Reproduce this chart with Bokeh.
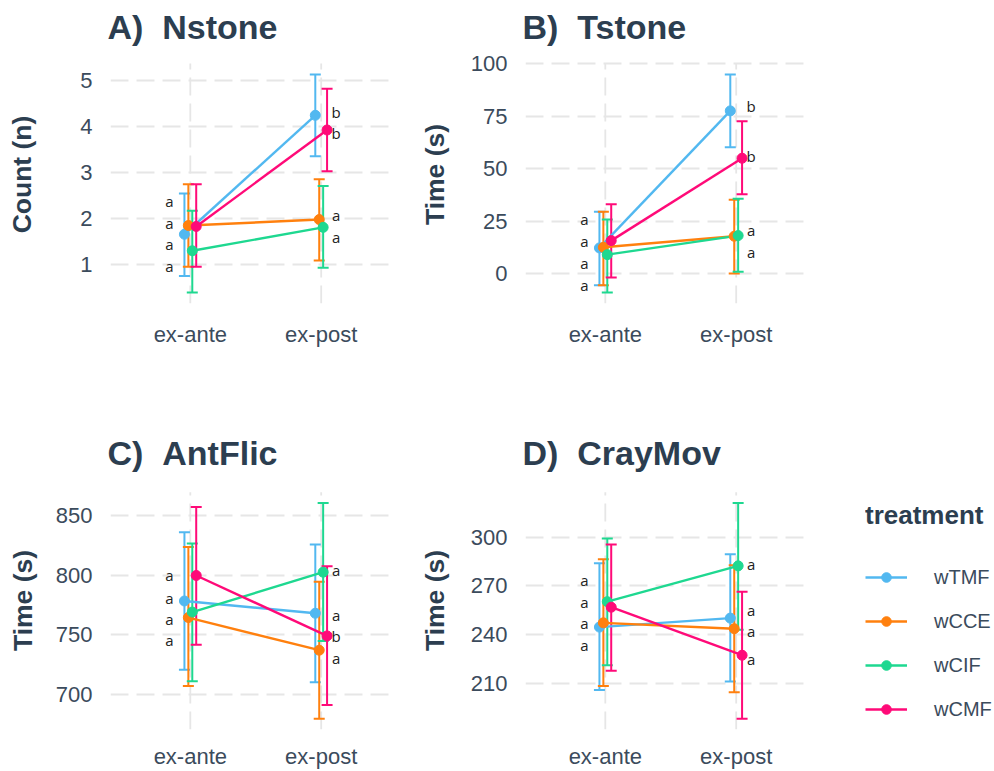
from bokeh.plotting import figure
from bokeh.models import ColumnDataSource, Range1d, FixedTicker, Whisker, TeeHead, Legend, LegendItem
from bokeh.layouts import row, column
from bokeh.embed import file_html
from bokeh.resources import INLINE
from bokeh.core.properties import value

# ---------------- data ----------------
categories = ["ex-ante", "ex-post"]
treatments = ["wTMF", "wCCE", "wCIF", "wCMF"]
colors = ["#52B8F0", "#FF800E", "#1ED890", "#FF0A78"]

# A) Nstone  (rows: wTMF, wCCE, wCIF, wCMF; columns: ex-ante, ex-post)
nstone_mean = [[1.66, 4.25], [1.85, 1.98], [1.30, 1.81], [1.83, 3.93]]
nstone_lower = [[0.75, 3.36], [0.95, 1.09], [0.39, 0.93], [0.95, 3.03]]
nstone_upper = [[2.55, 5.14], [2.75, 2.86], [2.17, 2.71], [2.75, 4.83]]
nstone_ticks = [1, 2, 3, 4, 5]
nstone_ante_letters = ["a", "a", "a", "a"]
nstone_ante_letter_y = [2.38, 1.90, 1.44, 0.96]
nstone_post_letters = ["b", "a", "a", "b"]
nstone_post_letter_y = [4.33, 2.07, 1.59, 3.87]

# B) Tstone
tstone_mean = [[12.2, 77.6], [12.5, 17.8], [9.0, 18.1], [15.7, 55.0]]
tstone_lower = [[-5.6, 60.3], [-5.6, 0.0], [-9.1, 0.8], [-1.9, 37.8]]
tstone_upper = [[29.5, 95.0], [29.5, 35.2], [25.8, 35.7], [33.1, 72.6]]
tstone_ticks = [0, 25, 50, 75, 100]
tstone_ante_letters = ["a", "a", "a", "a"]
tstone_ante_letter_y = [25.8, 15.4, 5.0, -5.4]
tstone_post_letters = ["b", "a", "a", "b"]
tstone_post_letter_y = [79.7, 10.4, 20.8, 56.2]

# C) AntFlic
antflic_mean = [[778.3, 768.0], [764.4, 737.0], [769.0, 802.5], [799.7, 749.0]]
antflic_lower = [[720.6, 710.0], [707.0, 679.5], [710.9, 744.8], [741.5, 691.0]]
antflic_upper = [[836.0, 825.7], [823.7, 794.5], [826.5, 860.5], [857.2, 807.5]]
antflic_ticks = [700, 750, 800, 850]
antflic_ante_letters = ["a", "a", "a", "a"]
antflic_ante_letter_y = [800.0, 781.0, 763.0, 745.7]
antflic_post_letters = ["a", "a", "a", "b"]
antflic_post_letter_y = [766.6, 730.4, 804.2, 748.5]

# D) CrayMov
craymov_mean = [[244.7, 250.2], [247.3, 243.7], [260.3, 282.3], [256.9, 227.4]]
craymov_lower = [[206.0, 211.2], [208.5, 204.6], [221.3, 243.0], [217.9, 188.4]]
craymov_upper = [[283.9, 289.4], [286.3, 282.7], [299.1, 320.9], [295.5, 266.4]]
craymov_ticks = [210, 240, 270, 300]
craymov_ante_letters = ["a", "a", "a", "a"]
craymov_ante_letter_y = [273.5, 260.3, 247.3, 233.9]
craymov_post_letters = ["a", "a", "a", "a"]
craymov_post_letter_y = [255.2, 242.0, 283.3, 225.0]

dodge = [-0.045, -0.015, 0.015, 0.045]

TITLE_COLOR = "#2C3E50"
TICK_COLOR = "#3B4B5C"
GRID_COLOR = "#E6E6E6"
FONT = "Liberation Sans"
DATA_H = 240  # pixel height of the data panel (ggplot panel)


def make_panel(title, ylabel, means, lowers, uppers, yticks,
               ante_letters, ante_y, post_letters, post_y,
               width, height, bl, bt, bb, br, ext_px,
               ylab_standoff, xlab_standoff):
    lo = min(min(v) for v in lowers)
    hi = max(max(v) for v in uppers)
    pad = 0.05 * (hi - lo)
    lo_r, hi_r = lo - pad, hi + pad
    top = hi_r + (hi_r - lo_r) * ext_px / DATA_H
    p = figure(width=width, height=height, title=title,
               x_range=Range1d(0.39, 2.545), y_range=Range1d(lo_r, top),
               output_backend="svg", toolbar_location=None,
               min_border_left=bl, min_border_top=bt,
               min_border_bottom=bb, min_border_right=br)
    p.outline_line_color = None
    p.background_fill_color = "white"
    p.border_fill_color = "white"

    p.title.text_font = FONT
    p.title.text_font_size = "34px"
    p.title.text_font_style = "bold"
    p.title.text_color = TITLE_COLOR
    p.title.align = "left"
    p.title.offset = -3
    p.title.standoff = 0

    p.xaxis.ticker = FixedTicker(ticks=[1, 2])
    p.xaxis.major_label_overrides = {1: categories[0], 2: categories[1]}
    p.xaxis.major_label_standoff = xlab_standoff
    p.yaxis.ticker = FixedTicker(ticks=yticks)
    p.yaxis.major_label_standoff = 18
    p.axis.axis_line_color = None
    p.axis.major_tick_line_color = None
    p.axis.major_tick_out = 0
    p.axis.major_tick_in = 0
    p.axis.minor_tick_line_color = None
    p.axis.minor_tick_out = 0
    p.axis.minor_tick_in = 0
    p.axis.major_label_text_font = FONT
    p.axis.major_label_text_font_size = "22px"
    p.axis.major_label_text_color = TICK_COLOR
    p.yaxis.axis_label = ylabel
    p.yaxis.axis_label_text_font = FONT
    p.yaxis.axis_label_text_font_size = "26.5px"
    p.yaxis.axis_label_text_font_style = "bold"
    p.yaxis.axis_label_text_color = TITLE_COLOR
    p.yaxis.axis_label_standoff = ylab_standoff

    p.xgrid.visible = False
    p.ygrid.grid_line_color = GRID_COLOR
    p.ygrid.grid_line_width = 1.8
    p.ygrid.grid_line_dash = "18 8"
    p.ygrid.minor_grid_line_color = None
    # vertical grid lines only over the data panel
    cat_x = [i + 1 for i in range(len(categories))]
    p.segment(x0=cat_x, y0=[lo_r] * len(cat_x), x1=cat_x, y1=[hi_r] * len(cat_x),
              line_color=GRID_COLOR, line_width=1.8, line_dash="18 8", level="underlay")

    sources = []
    for s in range(len(treatments)):
        xs = [i + 1 + dodge[s] for i in range(len(categories))]
        src = ColumnDataSource(dict(x=xs, y=means[s], lower=lowers[s], upper=uppers[s]))
        sources.append(src)
        c = colors[s]
        w = Whisker(source=src, base="x", upper="upper", lower="lower",
                    line_color=c, line_width=2,
                    upper_head=TeeHead(size=11, line_color=c, line_width=2),
                    lower_head=TeeHead(size=11, line_color=c, line_width=2))
        p.add_layout(w)
    for s in range(len(treatments)):
        p.line("x", "y", source=sources[s], line_color=colors[s], line_width=2.4)
    for s in range(len(treatments)):
        p.scatter("x", "y", source=sources[s], size=10, color=colors[s])

    p.text(x=[1] * len(ante_letters), y=ante_y, text=ante_letters, x_offset=-21,
           text_align="center", text_baseline="middle",
           text_font=value("Open Sans"), text_font_size="15px", text_color="#222222")
    p.text(x=[2] * len(post_letters), y=post_y, text=post_letters, x_offset=15,
           text_align="center", text_baseline="middle",
           text_font=value("Open Sans"), text_font_size="15px", text_color="#222222")
    return p, sources


pA, _ = make_panel("A)\u00a0\u00a0Nstone", "Count (n)", nstone_mean, nstone_lower, nstone_upper, nstone_ticks,
                   nstone_ante_letters, nstone_ante_letter_y, nstone_post_letters, nstone_post_letter_y,
                   410, 420, 110, 45, 117, 18, 18, 40, 18)
pB, _ = make_panel("B)\u00a0\u00a0Tstone", "Time (s)", tstone_mean, tstone_lower, tstone_upper, tstone_ticks,
                   tstone_ante_letters, tstone_ante_letter_y, tstone_post_letters, tstone_post_letter_y,
                   410, 420, 115, 45, 117, 13, 18, 18, 18)
pC, _ = make_panel("C)\u00a0\u00a0AntFlic", "Time (s)", antflic_mean, antflic_lower, antflic_upper, antflic_ticks,
                   antflic_ante_letters, antflic_ante_letter_y, antflic_post_letters, antflic_post_letter_y,
                   410, 351, 110, 51, 39, 18, 21, 15, 14)
pD, d_sources = make_panel("D)\u00a0\u00a0CrayMov", "Time (s)", craymov_mean, craymov_lower, craymov_upper,
                           craymov_ticks, craymov_ante_letters, craymov_ante_letter_y,
                           craymov_post_letters, craymov_post_letter_y,
                           410, 351, 115, 51, 39, 13, 21, 18, 14)

# legend panel: renderers share panel D's data, which lies outside this panel's (0, 1) ranges
leg = figure(width=174, height=351, x_range=Range1d(0, 1), y_range=Range1d(0, 1),
             x_axis_location=None, y_axis_location=None,
             output_backend="svg", toolbar_location=None,
             min_border_left=45, min_border_top=51, min_border_right=0, min_border_bottom=39)
leg.outline_line_color = None
leg.grid.grid_line_color = None
items = []
for s, name in enumerate(treatments):
    lr = leg.line("x", "y", source=d_sources[s], line_color=colors[s], line_width=2.4)
    sr = leg.scatter("x", "y", source=d_sources[s], size=10, color=colors[s])
    items.append(LegendItem(label=name, renderers=[lr, sr]))
legend = Legend(items=items, location=(0, 8), title="treatment",
                title_text_font=FONT, title_text_font_size="26px", title_text_font_style="bold",
                title_text_color=TITLE_COLOR, title_standoff=34,
                label_text_font=FONT, label_text_font_size="20px", label_text_color=TICK_COLOR,
                glyph_width=42, glyph_height=24, label_height=24, label_standoff=27,
                spacing=20, padding=0, margin=0, border_line_color=None,
                background_fill_alpha=0)
leg.add_layout(legend)

layout = column(row(pA, pB), row(pC, pD, leg))
open("out.html", "w").write(file_html(layout, INLINE))
